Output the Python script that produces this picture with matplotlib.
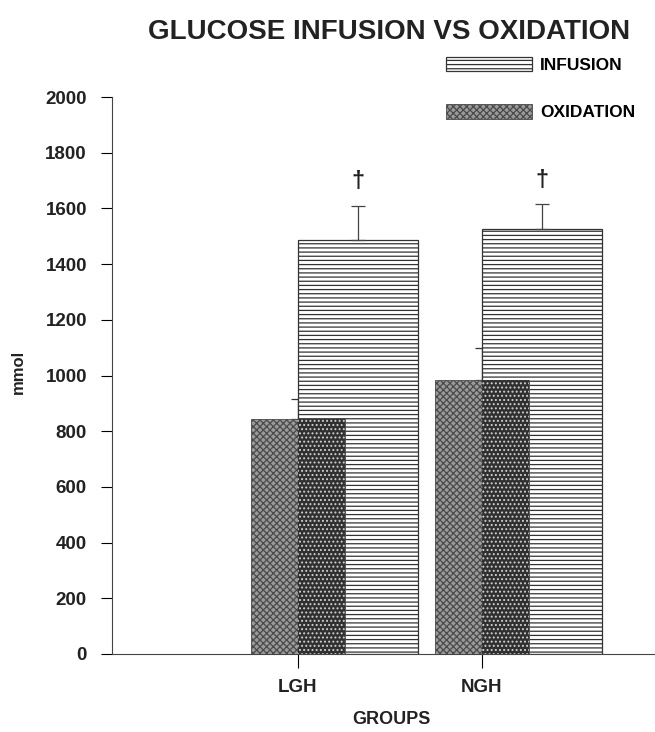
import matplotlib
matplotlib.use("Agg")
import matplotlib.pyplot as plt
import numpy as np

plt.rcParams['font.family'] = ['Liberation Sans', 'DejaVu Sans']
plt.rcParams['hatch.linewidth'] = 0.9

groups = ["LGH", "NGH"]
infusion = [1485, 1525]
infusion_err = [125, 90]
oxidation = [845, 985]
oxidation_err = [70, 115]
marks = ["\u2020", "\u2020"]

fig = plt.figure(figsize=(6.55, 7.32), dpi=100)
ax = fig.add_axes([112/655, 1-654/732, 1-112/655, (654-97)/732])

x = np.arange(1, len(groups)+1)
ox_w = 0.51
inf_w = 0.65

# oxidation error bars (partly hidden behind infusion bars)
ax.errorbar(x, oxidation, yerr=[np.zeros(len(x)), oxidation_err], fmt='none',
            ecolor='#333333', elinewidth=0.9, capsize=5, capthick=0.9, zorder=1)

inf_bars = ax.bar(x, infusion, width=inf_w, align='edge', facecolor='white',
                  edgecolor='#333333', linewidth=0.9, hatch='----', zorder=2,
                  label='INFUSION')
ax.errorbar(x + inf_w/2, infusion, yerr=[np.zeros(len(x)), infusion_err], fmt='none',
            ecolor='#444444', elinewidth=0.9, capsize=5, capthick=0.9, zorder=2.5)

ox_bars = ax.bar(x, oxidation, width=ox_w, align='center', facecolor='#9a9a9a',
                 edgecolor='#4a4a4a', linewidth=0.6, hatch='xxxxx', zorder=3,
                 label='OXIDATION')
# overlapped region drawn darker
ax.bar(x, oxidation, width=ox_w/2, align='edge', facecolor='#303030',
       edgecolor='#d0d0d0', linewidth=0, hatch='....', zorder=3.5)

for xi, v, e, m in zip(x, infusion, infusion_err, marks):
    ax.text(xi + inf_w/2, v + e + 45, m, ha='center', va='bottom',
            fontsize=17, fontweight='bold', color='#222222')

ax.set_xlim(-0.01, 2.94)
ax.set_ylim(0, 2000)
ax.set_yticks(np.arange(0, 2001, 200))
ax.set_xticks(x)
ax.set_xticklabels(groups, fontsize=13.5, fontweight='bold', color='#222222')
ax.tick_params(axis='y', labelsize=13.5, length=8, width=0.8, direction='out', pad=10,
               labelcolor='#222222')
for lab in ax.get_yticklabels():
    lab.set_fontweight('bold')
ax.tick_params(axis='x', length=10, width=0.8, direction='out', pad=8)
ax.spines['top'].set_visible(False)
ax.spines['right'].set_visible(False)
ax.spines['left'].set_color('#444444')
ax.spines['bottom'].set_color('#444444')
ax.spines['left'].set_linewidth(0.8)
ax.spines['bottom'].set_linewidth(0.8)

fig.text(391/655, 1-720/732, "GROUPS", ha='center', va='center',
         fontsize=13, fontweight='bold', color='#222222')
fig.text(18/655, 1-372/732, "mmol", rotation=90, ha='center', va='center',
         fontsize=12, fontweight='bold', color='#222222')

fig.text(389/655, 1-32/732, "GLUCOSE INFUSION VS OXIDATION", ha='center', va='center',
         fontsize=20, fontweight='bold', color='#222222')

fig.legend(handles=[inf_bars, ox_bars], labels=["INFUSION", "OXIDATION"],
           loc='upper left', bbox_to_anchor=(437/655, 1-48/732), frameon=False,
           handlelength=5.0, handleheight=0.9, labelspacing=1.8,
           borderpad=0, handletextpad=0.45, prop={'weight': 'bold', 'size': 12.5})

fig.savefig("out.png", dpi=100)
